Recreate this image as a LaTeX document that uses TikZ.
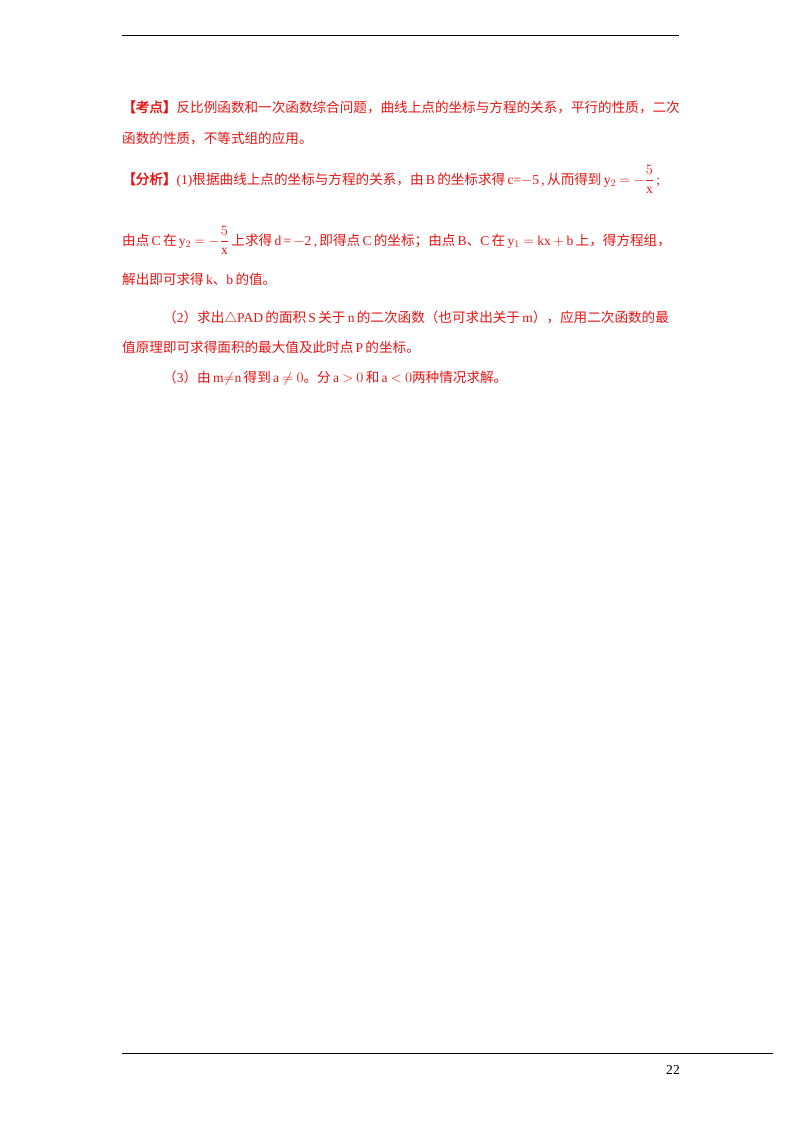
\documentclass[tikz,border=0pt]{standalone}
\usepackage{amsmath}
\usepackage{fontspec}
\setmainfont{Liberation Serif}
\newfontfamily\cjk{Noto Sans CJK SC}
\newfontfamily\cjkb{Noto Sans CJK SC}[FakeBold=2]
\XeTeXlinebreaklocale "zh"
\XeTeXlinebreakskip=0pt plus 1fil
\medmuskip=3mu \thickmuskip=4mu
\definecolor{txt}{RGB}{230,20,20}
\tikzset{ln/.style={anchor=base west,inner sep=0pt,text=txt,font=\fontsize{13.6}{16}\selectfont}}
\newcommand{\jl}[1]{\hbox to 558pt{#1}}
\begin{document}
\begin{tikzpicture}[x=1pt,y=-1pt]
\useasboundingbox[fill=white] (0,0) rectangle (800,1132);
\coordinate (r1a) at (122,35); \coordinate (r1b) at (679,35);
\draw[line width=0.8pt] (r1a) -- (r1b);
\coordinate (r2a) at (122,1053); \coordinate (r2b) at (773,1053);
\draw[line width=0.8pt] (r2a) -- (r2b);
\node[ln,text=black] (pg) at (666,1074) {22};
\node[ln] (l1) at (122,112) {\jl{{\cjkb 【考点】}{\cjk 反比例函数和一次函数综合问题，曲线上点的坐标与方程的关系，平行的性质，二次}}};
\node[ln] (l2) at (122,143) {{\cjk 函数的性质，不等式组的应用。}};
\node[ln] (l3) at (122,184) {\jl{{\cjkb 【分析】}(1){\cjk 根据曲线上点的坐标与方程的关系，由}\,B\,{\cjk 的坐标求得}\,c=$-$5\,,\,{\cjk 从而得到}\,$\mathrm{y}_2=-\dfrac{5}{\mathrm{x}}$\,;}};
\node[ln] (l4) at (122,245) {\jl{{\cjk 由点}\,C\,{\cjk 在}\,$\mathrm{y}_2=-\dfrac{5}{\mathrm{x}}$\,{\cjk 上求得}\,d\,=\,$-$2\,,\,{\cjk 即得点}\,C\,{\cjk 的坐标；由点}\,B{\cjk 、}C\,{\cjk 在}\,$\mathrm{y}_1=\mathrm{kx}+\mathrm{b}$\,{\cjk 上，得方程组，}}};
\node[ln] (l5) at (122,284) {{\cjk 解出即可求得}\,k{\cjk 、}b\,{\cjk 的值。}};
\node[ln] (l6) at (163,322) {\hbox to 517pt{{\cjk （}2{\cjk ）求出}$\triangle$PAD\,{\cjk 的面积}\,S\,{\cjk 关于}\,n\,{\cjk 的二次函数（也可求出关于}\,m{\cjk ），应用二次函数的最}}};
\node[ln] (l7) at (122,352) {{\cjk 值原理即可求得面积的最大值及此时点}\,P\,{\cjk 的坐标。}};
\node[ln] (l8) at (163,382) {{\cjk （}3{\cjk ）由}\,m$\neq$n\,{\cjk 得到}\,$\mathrm{a}\neq0${\cjk 。分}\,$\mathrm{a}>0$\,{\cjk 和}\,$\mathrm{a}<0${\cjk 两种情况求解。}};
\end{tikzpicture}
\end{document}
